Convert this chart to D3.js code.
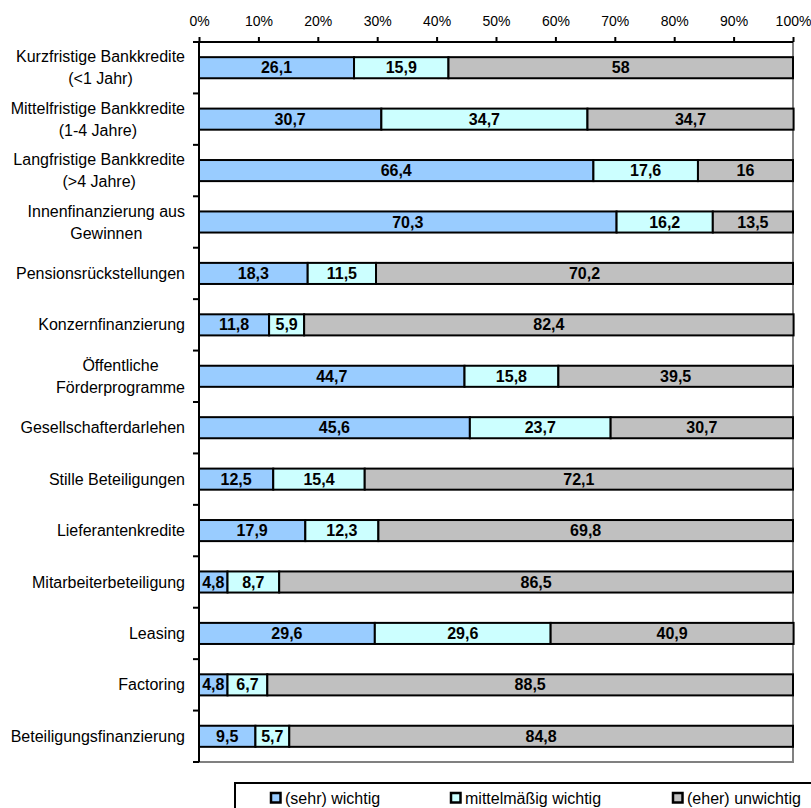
<!DOCTYPE html>
<html><head><meta charset="utf-8">
<script src="https://cdn.jsdelivr.net/npm/d3@7"></script>
<style>body{margin:0;background:#fff}svg{display:block}text{font-family:Arial,"Liberation Sans",sans-serif}</style>
</head><body>
<svg id="c" width="811" height="808"></svg>
<script>
const categories = [
  ["Kurzfristige Bankkredite","(<1 Jahr)"],
  ["Mittelfristige Bankkredite","(1-4 Jahre)"],
  ["Langfristige Bankkredite","(>4 Jahre)"],
  ["Innenfinanzierung aus","Gewinnen"],
  ["Pensionsrückstellungen"],
  ["Konzernfinanzierung"],
  ["Öffentliche","Förderprogramme"],
  ["Gesellschafterdarlehen"],
  ["Stille Beteiligungen"],
  ["Lieferantenkredite"],
  ["Mitarbeiterbeteiligung"],
  ["Leasing"],
  ["Factoring"],
  ["Beteiligungsfinanzierung"]
];
const sehrWichtig = [26.1,30.7,66.4,70.3,18.3,11.8,44.7,45.6,12.5,17.9,4.8,29.6,4.8,9.5];
const mittelWichtig = [15.9,34.7,17.6,16.2,11.5,5.9,15.8,23.7,15.4,12.3,8.7,29.6,6.7,5.7];
const unwichtig = [58,34.7,16,13.5,70.2,82.4,39.5,30.7,72.1,69.8,86.5,40.9,88.5,84.8];
const seriesNames = ["(sehr) wichtig","mittelmäßig wichtig","(eher) unwichtig"];
const seriesColors = ["#99CCFF","#CCFFFF","#C0C0C0"];
const tickLabels = ["0%","10%","20%","30%","40%","50%","60%","70%","80%","90%","100%"];

const svg = d3.select("#c");
const L=199, R=793, T=42, B=762;
const x = d3.scaleLinear().domain([0,100]).range([L,R]);
const y = d3.scaleBand().domain(d3.range(categories.length)).range([T,B]).paddingInner(0.59).paddingOuter(0.295);
const yb = d3.scaleBand().domain(d3.range(categories.length)).range([T,B]);

// plot border (gray right & bottom)
svg.append("path").attr("d",`M${R},${T}V${B}H${L}`).attr("fill","none").attr("stroke","#808080").attr("stroke-width",2);

const data = categories.map((c,i)=>({i, vals:[sehrWichtig[i],mittelWichtig[i],unwichtig[i]]}));
const fmt = v => String(v).replace(".",",");
data.forEach(d=>{
  let acc=0;
  d.vals.forEach((v,k)=>{
    const x0=x(acc), x1=x(acc+v);
    svg.append("rect").attr("x",x0).attr("y",y(d.i)).attr("width",x1-x0).attr("height",y.bandwidth())
      .attr("fill",seriesColors[k]).attr("stroke","#000").attr("stroke-width",2);
    svg.append("text").attr("x",(x0+x1)/2).attr("y",y(d.i)+y.bandwidth()/2+5.5)
      .attr("text-anchor","middle").attr("font-size",16).attr("font-weight","bold").text(fmt(v));
    acc+=v;
  });
});

// top axis
const xa = d3.axisTop(x).tickValues(d3.range(0,101,10)).tickFormat((d,i)=>tickLabels[i]).tickSize(5).tickPadding(11);
const gx = svg.append("g").attr("transform",`translate(0,${T})`).call(xa);
gx.select(".domain").attr("stroke","#000").attr("stroke-width",2).attr("d",`M${L},0H${R}`);
gx.selectAll(".tick line").attr("stroke-width",2);
gx.selectAll(".tick text").attr("font-size",14).attr("font-family","Arial, 'Liberation Sans', sans-serif").attr("fill","#000");

// left axis
svg.append("line").attr("x1",L).attr("x2",L).attr("y1",T-1).attr("y2",B).attr("stroke","#000").attr("stroke-width",2);
d3.range(categories.length+1).forEach(i=>{
  const yy = i<categories.length? yb(i): B;
  svg.append("line").attr("x1",L-6).attr("x2",L).attr("y1",yy).attr("y2",yy).attr("stroke","#000").attr("stroke-width",2);
});
const labelRight = 185;
categories.forEach((c,i)=>{
  const cy = y(i)+y.bandwidth()/2;
  const t = svg.append("text").attr("font-size",16).attr("fill","#000");
  if(c.length===1){
    t.attr("text-anchor","end").attr("x",labelRight).attr("y",cy+5.5).text(c[0]);
  } else {
    t.attr("text-anchor","middle");
    const spans = c.map((line,j)=>t.append("tspan").attr("y",cy-5.5+j*22).text(line));
    const w = Math.max(...spans.map(s=>s.node().getComputedTextLength()));
    spans.forEach(s=>s.attr("x",labelRight-w/2));
  }
});

// legend
svg.append("rect").attr("x",235).attr("y",783).attr("width",600).attr("height",40).attr("fill","#fff").attr("stroke","#000").attr("stroke-width",2);
const legX=[271,451,673];
seriesNames.forEach((n,k)=>{
  svg.append("rect").attr("x",legX[k]).attr("y",793).attr("width",9.5).attr("height",9.5).attr("fill",seriesColors[k]).attr("stroke","#000").attr("stroke-width",2.5);
  svg.append("text").attr("x",legX[k]+14).attr("y",803.5).attr("font-size",16).text(n);
});
</script>
</body></html>
